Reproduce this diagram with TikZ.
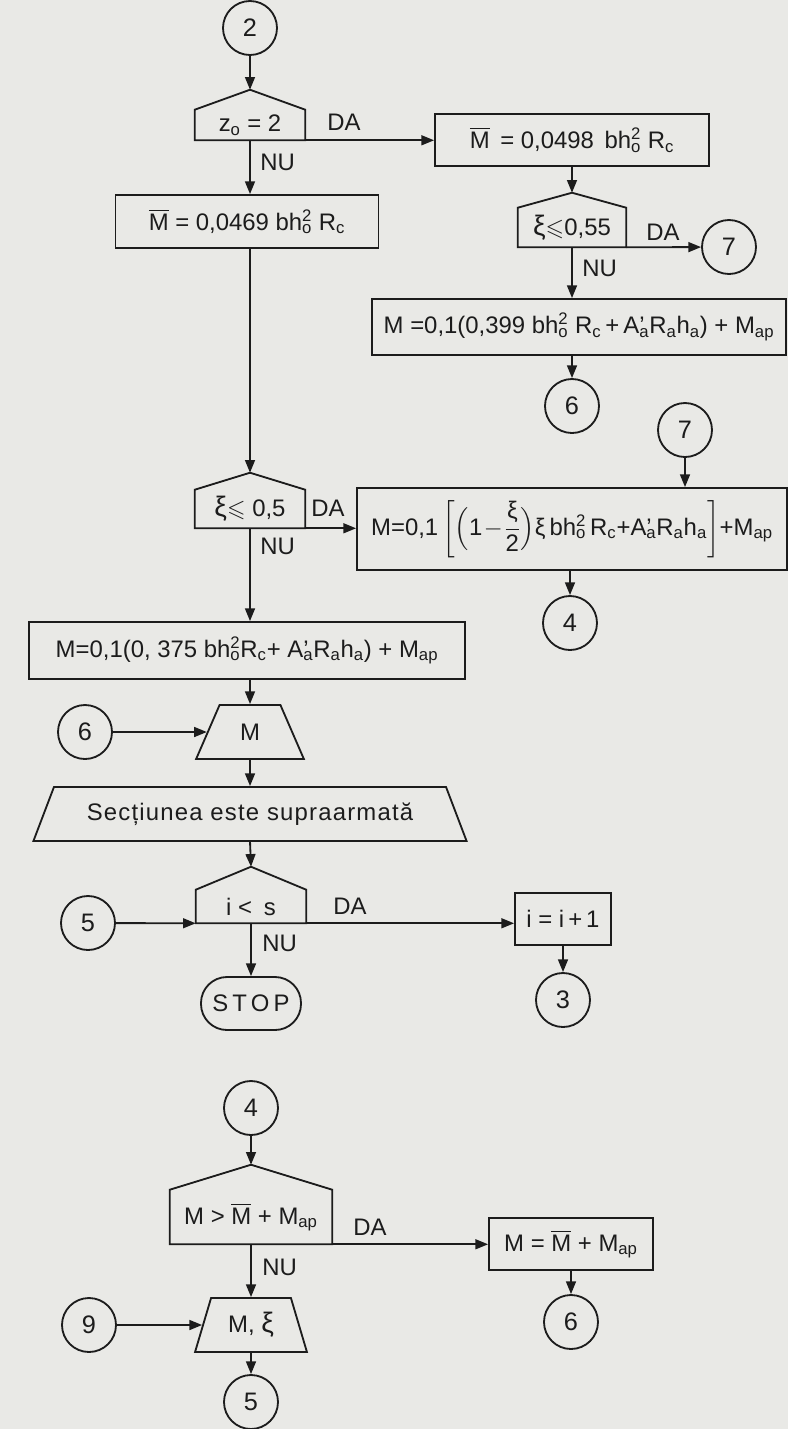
\documentclass[tikz,border=0pt]{standalone}
\usepackage{amsmath,amssymb}
\usepackage{fontspec}
\setmainfont{Liberation Sans}
\usepackage{tikz}
\usetikzlibrary{arrows.meta,shapes.geometric}
\definecolor{paper}{RGB}{233,233,230}
\definecolor{ink}{RGB}{28,28,28}
\newcommand{\sub}[1]{\textsubscript{#1}}
\newcommand{\subsup}[2]{\rlap{\textsubscript{#1}}\textsuperscript{#2}}
\newcommand{\Mbar}{$\overline{\mbox{M}}$}
\newcommand{\bigxi}{{\fontsize{20}{20}\selectfont ξ}}
% pentagon round a decision node, apex named <node>-top
\newcommand{\decroof}[2]{\draw[line] (#1.south west) -- (#1.north west)
  -- ([yshift=#2]#1.north) coordinate (#1-top) -- (#1.north east) -- (#1.south east) -- cycle;}
\tikzset{
  line/.style={draw=ink,line width=1.3pt},
  arr/.style={line,-{Triangle[length=9pt,width=7pt]}},
  box/.style={line,rectangle,inner sep=0pt},
  decis/.style={rectangle,inner sep=0pt},
  conn/.style={line,circle,minimum size=13.5mm,inner sep=0pt,font=\fontsize{18}{21}\selectfont},
  io/.style={line,trapezium,trapezium stretches=true,inner sep=0pt},
  term/.style={line,rectangle,rounded corners=6.5mm,inner sep=0pt},
  lab/.style={inner sep=0pt},
  every node/.style={font=\fontsize{17}{20}\selectfont,text=ink}
}
\begin{document}
\begin{tikzpicture}[x=0.25mm,y=-0.25mm]
  \fill[paper] (0,0) rectangle (788,1429);
  \useasboundingbox (0,0) rectangle (788,1429);
  % --- top: z_o test
  \node[conn] (c2) at (250,28) {2};
  \node[decis,minimum width=27.5mm,minimum height=7.5mm] (d1) at (250,125) {z\sub{o} = 2};
  \decroof{d1}{5mm}
  \node[lab] (da1) at (344,122) {DA};
  \node[lab,anchor=west] (nu1) at (260,162) {NU};
  \node[box,minimum width=68.5mm,minimum height=13mm] (b0) at (572,140)
    {\Mbar{}\, = 0,0498\, bh\subsup{o}{2}\ R\sub{c}};
  \node[box,minimum width=65.75mm,minimum height=13.25mm] (b1) at (247,221.5)
    {\Mbar{} = 0,0469 bh\subsup{o}{2} R\sub{c}};
  % --- right branch
  \node[decis,minimum width=27mm,minimum height=9.75mm] (d2) at (572,227.5) {\bigxi$\leqslant$0,55};
  \decroof{d2}{3.75mm}
  \node[lab] (da2) at (663,232) {DA};
  \node[conn] (c7a) at (729,247) {7};
  \node[lab,anchor=west] (nu2) at (582,268) {NU};
  \node[box,minimum width=103.5mm,minimum height=14mm] (b3) at (579,327)
    {M =0,1(0,399 bh\subsup{o}{2} R\sub{c}\,+\,A\rlap{'}\sub{a}R\sub{a}h\sub{a}) + M\sub{ap}};
  \node[conn] (c6a) at (572,406) {6};
  \node[conn] (c7b) at (685,430) {7};
  % --- xi test
  \node[decis,minimum width=27.5mm,minimum height=9.5mm] (d3) at (250,509) {\bigxi$\leqslant$ 0,5};
  \decroof{d3}{4.25mm}
  \node[lab] (da3) at (328,508) {DA};
  \node[lab,anchor=west] (nu3) at (260,546) {NU};
  \node[box,minimum width=107.5mm,minimum height=20.5mm] (b4) at (572,529)
    {M=0,1\,$\biggl[\Bigl(\mbox{1}\!-\!\dfrac{\mbox{ξ}}{\mbox{2}}\Bigr)\mbox{ξ\,bh\subsup{o}{2}\,R\sub{c}+A\rlap{'}\sub{a}R\sub{a}h\sub{a}}\biggr]$+M\sub{ap}};
  \node[conn] (c4a) at (570,623) {4};
  \node[box,minimum width=109mm,minimum height=14.25mm] (b2) at (247,650.5)
    {M=0,1(0, 375 bh\subsup{o}{2}R\sub{c}+ A\rlap{'}\sub{a}R\sub{a}h\sub{a}) + M\sub{ap}};
  % --- output
  \node[io,minimum width=27mm,minimum height=13.5mm,trapezium angle=65] (t1) at (250,732) {M};
  \node[conn] (c6b) at (85,732) {6};
  \node[io,minimum width=108.5mm,minimum height=13.5mm,trapezium angle=53] (t2) at (250,814)
    {\addfontfeature{LetterSpace=5}Secțiunea este supraarmată};
  \node[decis,minimum width=27.5mm,minimum height=8.25mm] (d4) at (251,906.5) {i <\enspace s};
  \decroof{d4}{5.75mm}
  \node[lab] (da4) at (350,906) {DA};
  \node[lab,anchor=west] (nu4) at (262,943) {NU};
  \node[conn] (c5a) at (88,923) {5};
  \node[box,minimum width=24mm,minimum height=13mm] (b5) at (563,919) {i = i\,+\,1};
  \node[term,minimum width=25mm,minimum height=13.25mm] (stop) at (251,1003.5) {S\,T\,O\,P};
  \node[conn] (c3) at (563,1000) {3};
  % --- M against M bar
  \node[conn] (c4b) at (251,1108) {4};
  \node[decis,minimum width=40.5mm,minimum height=13.5mm] (d5) at (251,1217) {M > \Mbar{} + M\sub{ap}};
  \decroof{d5}{6.25mm}
  \node[lab] (da5) at (370,1227) {DA};
  \node[lab,anchor=west] (nu5) at (262,1267) {NU};
  \node[box,minimum width=41mm,minimum height=13mm] (b6) at (571,1244) {M = \Mbar{} + M\sub{ap}};
  \node[conn] (c6c) at (571,1322) {6};
  \node[io,minimum width=28mm,minimum height=13.5mm,trapezium angle=70] (t3) at (251,1325) {M, \bigxi};
  \node[conn] (c9) at (89,1325) {9};
  \node[conn] (c5b) at (251,1402) {5};
  % --- connectors
  \draw[arr] (c2) -- (d1-top);
  \draw[arr] (d1.south east) -- (d1.south east -| b0.west);
  \draw[arr] (d1.south) -- (d1.south |- b1.north);
  \draw[arr] (b0.south) -- (d2-top);
  \draw[arr] (d2.south east) -- (c7a);
  \draw[arr] (d2.south) -- (d2.south |- b3.north);
  \draw[arr] (b3.south -| c6a) -- (c6a);
  \draw[arr] (b1.south -| d3-top) -- (d3-top);
  \draw[arr] (d3.south east) -- (d3.south east -| b4.west);
  \draw[arr] (c7b) -- (c7b |- b4.north);
  \draw[arr] (b4.south -| c4a) -- (c4a);
  \draw[arr] (d3.south) -- (d3.south |- b2.north);
  \draw[arr] (b2.south -| t1.north) -- (t1.north);
  \draw[arr] (c6b) -- (t1);
  \draw[arr] (t1.south) -- (t2.north);
  \draw[arr] (t2.south) -- (d4-top);
  \draw[arr] (c5a) -- (d4.south west);
  \draw[arr] (d4.south east) -- (d4.south east -| b5.west);
  \draw[arr] (d4.south) -- (d4.south |- stop.north);
  \draw[arr] (b5.south) -- (c3);
  \draw[arr] (c4b) -- (d5-top);
  \draw[arr] (d5.south east) -- (d5.south east -| b6.west);
  \draw[arr] (b6.south -| c6c) -- (c6c);
  \draw[arr] (d5.south) -- (t3.north);
  \draw[arr] (c9) -- (t3);
  \draw[arr] (t3.south) -- (c5b);
\end{tikzpicture}
\end{document}
